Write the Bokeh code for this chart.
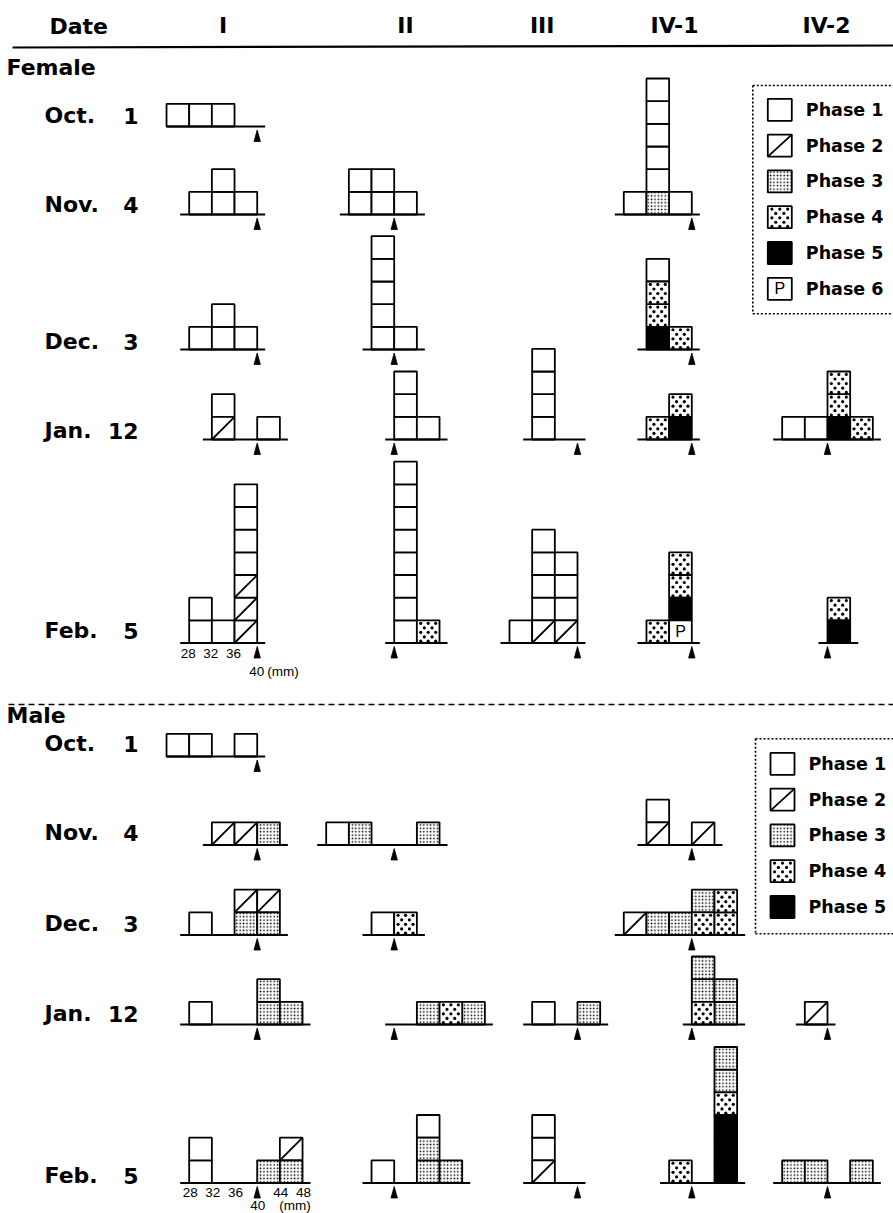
from bokeh.plotting import figure
from bokeh.models import Range1d
from bokeh.embed import file_html
from bokeh.resources import INLINE
from bokeh.core.properties import value

# ---------------------------------------------------------------------------
# Data: carapace-length classes (4 mm wide). Each stack lists the ovarian /
# testicular phase of every specimen, from the baseline upward
# ("1".."5" = Phase 1..5, "6" = Phase 6, drawn with a "P").
# ---------------------------------------------------------------------------
stations = ["I", "II", "III", "IV-1", "IV-2"]
dates = [("Oct.", "1"), ("Nov.", "4"), ("Dec.", "3"), ("Jan.", "12"), ("Feb.", "5")]

female_oct1 = {"I": {24: "1", 28: "1", 32: "1"}}
female_nov4 = {"I": {28: "1", 32: "11", 36: "1"},
               "II": {32: "11", 36: "11", 40: "1"},
               "IV-1": {28: "1", 32: "311111", 36: "1"}}
female_dec3 = {"I": {28: "1", 32: "11", 36: "1"},
               "II": {36: "11111", 40: "1"},
               "IV-1": {32: "5441", 36: "4"}}
female_jan12 = {"I": {32: "21", 40: "1"},
                "II": {40: "111", 44: "1"},
                "III": {32: "1111"},
                "IV-1": {32: "4", 36: "54"},
                "IV-2": {32: "1", 36: "1", 40: "544", 44: "4"}}
female_feb5 = {"I": {28: "11", 32: "1", 36: "2221111"},
               "II": {40: "11111111", 44: "4"},
               "III": {28: "1", 32: "21111", 36: "2111"},
               "IV-1": {32: "4", 36: "6544"},
               "IV-2": {40: "54"}}

male_oct1 = {"I": {24: "1", 28: "1", 36: "1"}}
male_nov4 = {"I": {32: "2", 36: "2", 40: "3"},
             "II": {28: "1", 32: "3", 44: "3"},
             "IV-1": {32: "21", 40: "2"}}
male_dec3 = {"I": {28: "1", 36: "32", 40: "32"},
             "II": {36: "1", 40: "4"},
             "IV-1": {28: "2", 32: "3", 36: "3", 40: "43", 44: "44"}}
male_jan12 = {"I": {28: "1", 40: "33", 44: "3"},
              "II": {44: "3", 48: "4", 52: "3"},
              "III": {32: "1", 40: "3"},
              "IV-1": {40: "433", 44: "33"},
              "IV-2": {36: "2"}}
male_feb5 = {"I": {28: "11", 40: "3", 44: "32"},
             "II": {36: "1", 44: "331", 48: "3"},
             "III": {32: "211"},
             "IV-1": {36: "4", 44: "555433"},
             "IV-2": {32: "3", 36: "3", 44: "3"}}

female_rows = [female_oct1, female_nov4, female_dec3, female_jan12, female_feb5]
male_rows = [male_oct1, male_nov4, male_dec3, male_jan12, male_feb5]

female_legend = ["Phase 1", "Phase 2", "Phase 3", "Phase 4", "Phase 5", "Phase 6"]
male_legend = ["Phase 1", "Phase 2", "Phase 3", "Phase 4", "Phase 5"]

female_ticks = [28, 32, 36]
male_ticks = [28, 32, 36, 44, 48]
marked_size = 40          # the arrow under every baseline marks 40 mm

# ---------------------------------------------------------------------------
# Layout (page pixels, y grows downward)
# ---------------------------------------------------------------------------
W, H = 893, 1213
MM = 5.667                      # pixels per mm
BIN = 4
BOX = BIN * MM                  # one specimen square
station_x40 = {"I": 256.7, "II": 393.7, "III": 577.0, "IV-1": 691.3, "IV-2": 827.0}
station_head_x = {"I": 222.7, "II": 405.0, "III": 541.7, "IV-1": 674.0, "IV-2": 826.0}
female_base = [126.0, 214.0, 349.0, 439.0, 642.5]
male_base = [756.0, 844.5, 934.5, 1024.0, 1182.5]
female_label_y = [115, 204, 341, 430, 630]
male_label_y = [743, 832, 923, 1013, 1175]

# Coarse stipple used for Phase 4: staggered rows of dots (fractions of a square)
STIPPLE_ROWS = [0.13, 0.33, 0.53, 0.73, 0.92]
STIPPLE_A = [0.17, 0.50, 0.83]
STIPPLE_B = [0.33, 0.67]

BOLD = value("DejaVu Sans")
THIN = value("Liberation Sans")

p = figure(width=W, height=H, x_range=Range1d(0, W), y_range=Range1d(H, 0),
           x_axis_type=None, y_axis_type=None, toolbar_location=None,
           output_backend="svg", min_border=0, outline_line_color=None,
           background_fill_color="white", border_fill_color="white")
p.grid.visible = False


def xpos(station, mm):
    return station_x40[station] + (mm - marked_size) * MM


boxes = {ph: dict(left=[], right=[], top=[], bottom=[]) for ph in "123456"}
diag = dict(x0=[], y0=[], x1=[], y1=[])
ptext = dict(x=[], y=[])
dots = dict(x=[], y=[])
bases = dict(x0=[], x1=[], y=[])
arrows = dict(xs=[], ys=[])


def add_box(ph, l, r, top, bot):
    b = boxes[ph]
    b["left"].append(l); b["right"].append(r); b["top"].append(top); b["bottom"].append(bot)
    if ph == "2":
        diag["x0"].append(l); diag["y0"].append(bot); diag["x1"].append(r); diag["y1"].append(top)
    if ph == "6":
        ptext["x"].append((l + r) / 2); ptext["y"].append((top + bot) / 2)
    if ph == "4":
        for j, fy in enumerate(STIPPLE_ROWS):
            for fx in (STIPPLE_A if j % 2 == 0 else STIPPLE_B):
                dots["x"].append(l + fx * (r - l))
                dots["y"].append(top + fy * (bot - top))


def add_panel(station, stacks, base, left_pad):
    x40 = station_x40[station]
    sizes = sorted(stacks)
    for s in sizes:
        l, r = xpos(station, s), xpos(station, s + BIN)
        for k, ph in enumerate(stacks[s]):
            add_box(ph, l, r, base - (k + 1) * BOX, base - k * BOX)
    lo = min(xpos(station, sizes[0]), x40) - left_pad
    hi = max(xpos(station, sizes[-1] + BIN), x40) + 8
    bases["x0"].append(lo); bases["x1"].append(hi); bases["y"].append(base)
    arrows["xs"].append([x40 - 3.2, x40, x40 + 3.2])
    arrows["ys"].append([base + 15, base + 3.5, base + 15])


for rows, base_list in ((female_rows, female_base), (male_rows, male_base)):
    for i, row in enumerate(rows):
        for station, stacks in row.items():
            add_panel(station, stacks, base_list[i], 0 if i == 0 else 9)


# Legend swatches (same fills as the histogram squares)
def add_legend(labels, left, top, bottom, y0, step):
    ys = []
    for i, _ in enumerate(labels):
        yc = y0 + i * step
        add_box(str(i + 1), left + 15, left + 39, yc - 11, yc + 11)
        ys.append(yc)
    p.text(x=[left + 53] * len(labels), y=ys, text=labels, text_font=BOLD,
           text_font_style="bold", text_font_size="17.5px",
           text_align="left", text_baseline="middle", text_color="black")
    frame_x = [[left, left], [left, W + 5], [left, W + 5]]
    frame_y = [[top, bottom], [top, top], [bottom, bottom]]
    p.multi_line(xs=frame_x, ys=frame_y, line_color="black", line_width=1.6,
                 line_dash="2 2")


add_legend(female_legend, 752.3, 85.0, 313.3, 109.3, 35.8)
add_legend(male_legend, 755.0, 738.3, 933.3, 763.3, 35.8)

# Squares by phase
edge = dict(line_color="black", line_width=1.8)
p.quad(source=boxes["1"], left="left", right="right", top="top", bottom="bottom",
       fill_color="white", **edge)
p.quad(source=boxes["2"], left="left", right="right", top="top", bottom="bottom",
       fill_color="white", **edge)
p.quad(source=boxes["3"], left="left", right="right", top="top", bottom="bottom",
       fill_color="white", hatch_pattern="dot", hatch_scale=3.4, hatch_weight=0.9,
       hatch_color="black", **edge)
p.quad(source=boxes["4"], left="left", right="right", top="top", bottom="bottom",
       fill_color="white", **edge)
p.circle(x="x", y="y", radius=1.6, source=dots, fill_color="black", line_color=None)
p.quad(source=boxes["5"], left="left", right="right", top="top", bottom="bottom",
       fill_color="black", **edge)
p.quad(source=boxes["6"], left="left", right="right", top="top", bottom="bottom",
       fill_color="white", **edge)
p.segment(x0="x0", y0="y0", x1="x1", y1="y1", source=diag,
          line_color="black", line_width=1.8)
p.text(x=ptext["x"], y=ptext["y"], text=["P"] * len(ptext["x"]),
       text_font=value("Liberation Sans"), text_font_size="16px",
       text_align="center", text_baseline="middle", text_color="black")

# Baselines and 40 mm arrows
p.segment(x0="x0", y0="y", x1="x1", y1="y", source=bases, line_color="black", line_width=2)
p.patches(xs="xs", ys="ys", source=arrows, fill_color="black", line_color="black",
          line_width=0.8)

# Header
p.text(x=[49], y=[26], text=["Date"], text_font=BOLD, text_font_style="bold",
       text_font_size="22px", text_align="left", text_baseline="middle")
p.text(x=[station_head_x[s] for s in stations], y=[25] * len(stations), text=stations,
       text_font=BOLD, text_font_style="bold", text_font_size="22px",
       text_align="center", text_baseline="middle")
p.segment(x0=[12], y0=[47], x1=[W], y1=[45], line_color="black", line_width=2.2)

# Section names and dates
p.text(x=[6, 6], y=[67, 715], text=["Female", "Male"], text_font=BOLD,
       text_font_style="bold", text_font_size="22px", text_align="left",
       text_baseline="middle")
for label_y in (female_label_y, male_label_y):
    p.text(x=[44] * len(dates), y=label_y, text=[d[0] for d in dates], text_font=BOLD,
           text_font_style="bold", text_font_size="22px", text_align="left",
           text_baseline="middle")
    p.text(x=[138] * len(dates), y=label_y, text=[d[1] for d in dates], text_font=BOLD,
           text_font_style="bold", text_font_size="22px", text_align="right",
           text_baseline="middle")

# Divider between the sexes
p.segment(x0=[8], y0=[704], x1=[W], y1=[704], line_color="black", line_width=1.5,
          line_dash="6 4")

# Size-class scale under the Feb. 5 panels of station I
fb, mb = female_base[-1], male_base[-1]
p.text(x=[xpos("I", t) - 1 for t in female_ticks], y=[fb + 10.5] * len(female_ticks),
       text=[str(t) for t in female_ticks], text_font=THIN, text_font_size="13.5px",
       text_align="center", text_baseline="middle")
p.text(x=[xpos("I", marked_size) - 8, xpos("I", marked_size) + 10], y=[fb + 28, fb + 28],
       text=[str(marked_size), "(mm)"], text_font=THIN, text_font_size="13.5px",
       text_align="left", text_baseline="middle")
p.text(x=[xpos("I", t) + 1 for t in male_ticks], y=[mb + 9] * len(male_ticks),
       text=[str(t) for t in male_ticks], text_font=THIN, text_font_size="13.5px",
       text_align="center", text_baseline="middle")
p.text(x=[xpos("I", marked_size) - 7, xpos("I", marked_size) + 22], y=[mb + 22.5, mb + 22.5],
       text=[str(marked_size), "(mm)"], text_font=THIN, text_font_size="13.5px",
       text_align="left", text_baseline="middle")

open("out.html", "w").write(file_html(p, INLINE))
